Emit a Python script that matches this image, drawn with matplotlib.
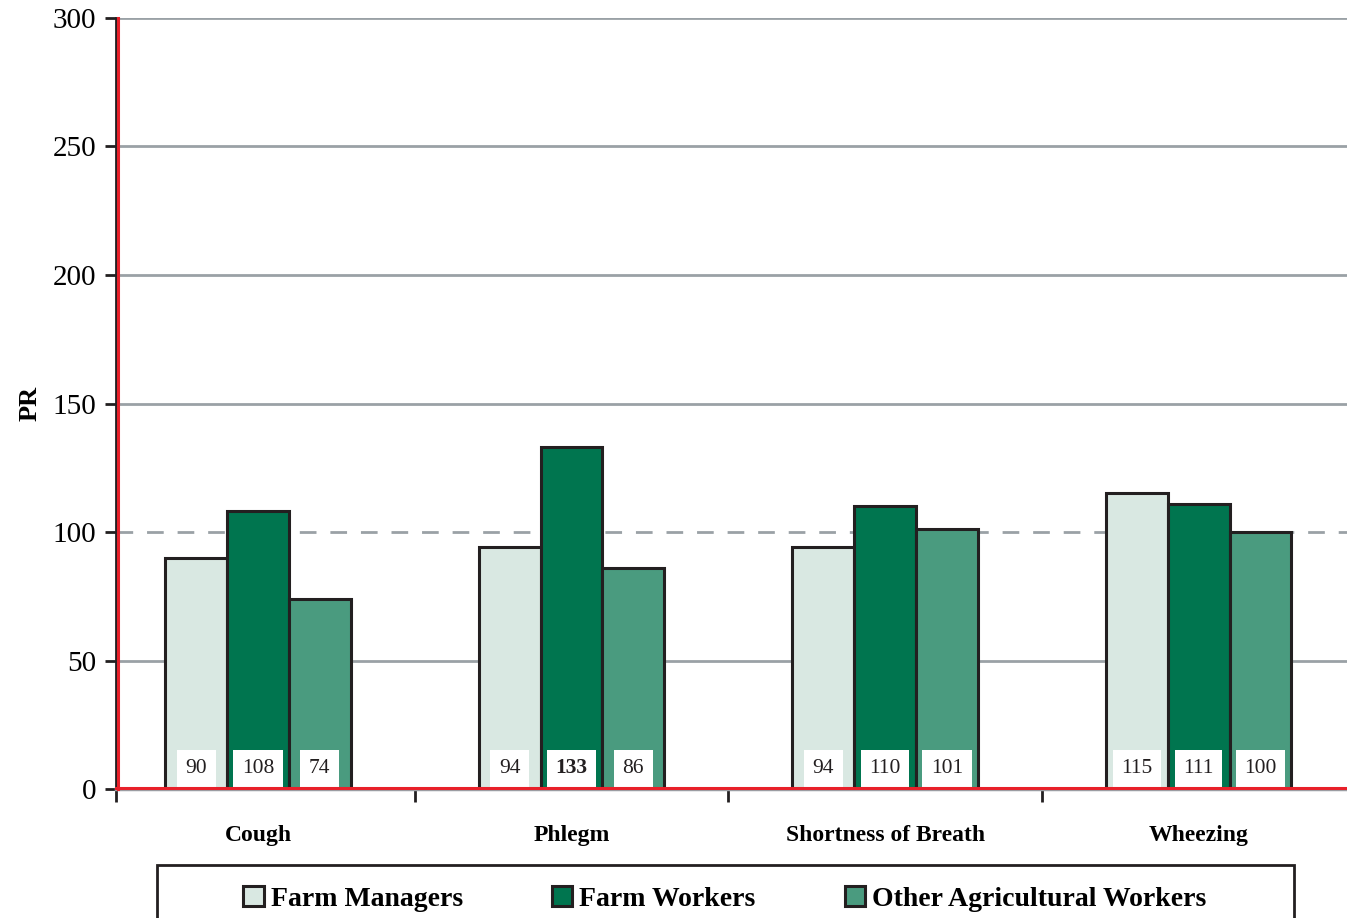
import matplotlib
matplotlib.use("Agg")
import matplotlib.pyplot as plt
import matplotlib.transforms as mtransforms
from matplotlib.patches import Rectangle
import numpy as np

# data
categories = ["Cough", "Phlegm", "Shortness of Breath", "Wheezing"]
series_names = ["Farm Managers", "Farm Workers", "Other Agricultural Workers"]
farm_managers = [90, 94, 94, 115]
farm_workers = [108, 133, 110, 111]
other_workers = [74, 86, 101, 100]
bold_labels = [(1, 1)]  # (series, category) shown in bold
yticks = [0, 50, 100, 150, 200, 250, 300]

colors = ["#d9e8e2", "#00754f", "#4a9b7f"]
edge = "#231f20"
grid_col = "#9aa1a6"

plt.rcParams["font.family"] = ["Liberation Serif", "DejaVu Serif"]

fig = plt.figure(figsize=(13.47, 9.18), dpi=100)
ax = fig.add_axes([0.0861, 0.1405, 0.9139, 0.8399])

x = np.arange(len(categories))
w = 0.197
all_series = [farm_managers, farm_workers, other_workers]

for y in yticks[1:]:
    if y == 100:
        ax.axhline(y, color=grid_col, lw=2, ls=(0, (6, 5)), zorder=1)
    else:
        ax.axhline(y, color=grid_col, lw=2, zorder=1)

for i, vals in enumerate(all_series):
    pos = x + (i - 1) * w
    ax.bar(pos, vals, width=w, color=colors[i], edgecolor=edge, linewidth=2.2,
           zorder=3, label=series_names[i])
    for j, v in enumerate(vals):
        ax.text(pos[j], 8, str(v), ha="center", va="center", fontsize=15.5,
                color="#231f20", fontweight="bold" if (i, j) in bold_labels else "normal",
                bbox=dict(boxstyle="square,pad=0.4", fc="white", ec="none"), zorder=4)

ax.set_xlim(-0.453, 3.473)
ax.set_ylim(0, 300)
ax.set_yticks(yticks)
ax.tick_params(axis="y", labelsize=21, length=8, width=2, color=edge, pad=6)
ax.set_ylabel("PR", fontsize=19, fontweight="bold", labelpad=8)

ax.set_xticks([-0.453, 0.5, 1.5, 2.5])
ax.set_xticklabels([])
ax.tick_params(axis="x", which="major", length=9, width=2, color=edge)
ax.set_xticks(x, minor=True)
ax.set_xticklabels(categories, minor=True, fontsize=17, fontweight="bold")
ax.tick_params(axis="x", which="minor", length=0, pad=26)

for s in ["top", "right"]:
    ax.spines[s].set_visible(False)
ax.spines["left"].set_color(edge)
ax.spines["left"].set_linewidth(2)
ax.spines["bottom"].set_color(grid_col)
ax.spines["bottom"].set_linewidth(2.5)

# red axis lines drawn just inside the frame
ax.plot([0, 0], [0, 1], transform=mtransforms.offset_copy(ax.transAxes, fig=fig, x=2, units="dots"),
        color="#e8202a", lw=2.2, zorder=5, clip_on=False)
ax.plot([0, 1], [0, 0], transform=mtransforms.offset_copy(ax.transAxes, fig=fig, y=1.5, units="dots"),
        color="#e8202a", lw=2.2, zorder=5, clip_on=False)

# legend box at the bottom, cut off by the figure edge
fig.patches.append(Rectangle((0.1166, -0.05), 0.844, 0.1077, transform=fig.transFigure,
                             fill=False, ec=edge, lw=2))
handles, labels = ax.get_legend_handles_labels()
fig.legend(handles, labels, loc="center", bbox_to_anchor=(0.538, 0.021), ncol=3,
           frameon=False, prop={"size": 20, "weight": "bold"},
           handlelength=0.75, handleheight=0.75, handletextpad=0.25, columnspacing=3.2)

fig.savefig("out.png", dpi=100)
